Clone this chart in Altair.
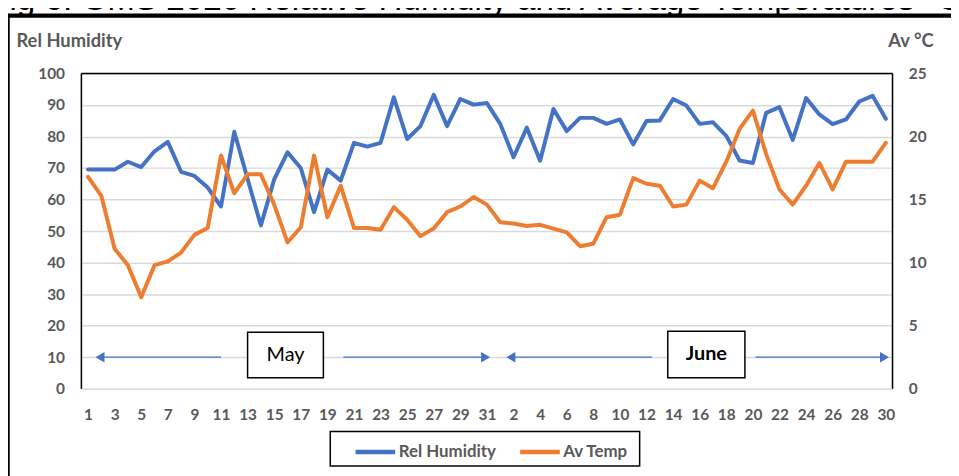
import json
import altair as alt
import pandas as pd

# ---------------- data ----------------
may_days = list(range(1, 32))
june_days = list(range(1, 31))
day_labels = may_days + june_days

series_names = ["Rel Humidity", "Av Temp"]
series_colors = ["#4472C4", "#ED7D31"]

humidity = [69.5, 69.5, 69.5, 72.0, 70.3, 75.3, 78.3, 68.8, 67.5, 63.8,
            57.8, 81.5, 66.5, 51.8, 66.4, 75.0, 70.0, 56.0, 69.5, 66.0,
            78.0, 76.8, 78.0, 92.4, 79.2, 83.3, 93.2, 83.3, 91.9, 90.1,
            90.6,
            84.0, 73.4, 82.8, 72.3, 88.75, 81.7, 85.9, 85.9, 84.0, 85.4,
            77.5, 84.9, 85.1, 91.9, 89.8, 84.0, 84.5, 80.2, 72.4, 71.6,
            87.5, 89.3, 78.9, 92.2, 87.0, 83.9, 85.4, 91.1, 92.9, 85.6]

temperature = [16.8, 15.3, 11.1, 9.8, 7.25, 9.8, 10.1, 10.8, 12.2, 12.75,
               18.5, 15.5, 17.0, 17.0, 14.6, 11.6, 12.8, 18.5, 13.6, 16.1,
               12.75, 12.75, 12.6, 14.4, 13.4, 12.1, 12.7, 14.0, 14.45, 15.2,
               14.6,
               13.2, 13.1, 12.9, 13.0, 12.7, 12.4, 11.3, 11.5, 13.6, 13.8,
               16.7, 16.25, 16.1, 14.45, 14.6, 16.5, 15.9, 18.0, 20.6, 22.05,
               18.6, 15.8, 14.6, 16.1, 17.9, 15.8, 18.0, 18.0, 18.0, 19.5]

title_text = "Fig 6. GMS 2020 Relative Humidity and Average Temperatures °C"
left_title = "Rel Humidity"
right_title = "Av °C"

# month annotations (x in day-index units, y in humidity units)
months = ["May", "June"]
month_weight = ["normal", "bold"]
month_box_x = [12.0, 43.6]
month_box_x2 = [17.7, 49.4]
month_box_y = [3.5, 3.5]
month_box_y2 = [17.9, 18.2]
arrow_start = [0.8, 19.2, 31.7, 50.2]
arrow_end = [10.0, 29.8, 42.4, 59.7]
arrow_head_x = [0.9, 29.9, 31.8, 59.9]
arrow_head_shape = ["triangle-left", "triangle-right", "triangle-left", "triangle-right"]
arrow_level = 10

# ---------------- tables ----------------
n = len(day_labels)
df_h = pd.DataFrame({"idx": list(range(n)), "value": humidity, "series": series_names[0]})
df_t = pd.DataFrame({"idx": list(range(n)), "value": temperature, "series": series_names[1]})
df_box = pd.DataFrame({"x": month_box_x, "x2": month_box_x2, "y": month_box_y, "y2": month_box_y2,
                       "label": months, "weight": month_weight})
df_box["cx"] = (df_box["x"] + df_box["x2"]) / 2
df_box["cy"] = (df_box["y"] + df_box["y2"]) / 2
df_arrow = pd.DataFrame({"x": arrow_start, "x2": arrow_end, "y": arrow_level})
df_head = pd.DataFrame({"x": arrow_head_x, "shape": arrow_head_shape, "y": arrow_level})
one = pd.DataFrame({"a": [0]})

W, H = 818, 318
FONT = "Lato"
GREY = "#595959"
BLUE = series_colors[0]
TICK_FS = 15.5
TITLE_FS = 18.5
LEG_FS = 17

xscale = alt.Scale(domain=[-0.5, n - 0.5], nice=False, zero=False)
hscale = alt.Scale(domain=[0, 100], nice=False, zero=True)
tscale = alt.Scale(domain=[0, 25], nice=False, zero=True)

x_axis = alt.Axis(values=list(range(0, n, 2)),
                  labelExpr=f"{json.dumps(day_labels)}[datum.value]",
                  grid=False, domain=False, ticks=False, labelPadding=19,
                  labelFont=FONT, labelFontSize=TICK_FS, labelFontWeight="bold",
                  labelColor=GREY, labelFlush=False, labelOverlap=False, title=None)

h_axis = alt.Axis(values=list(range(0, 101, 10)), grid=True, gridColor="#D9D9D9",
                  gridWidth=1.5, domain=False, ticks=False, labelPadding=17,
                  labelFont=FONT, labelFontSize=TICK_FS, labelFontWeight="bold",
                  labelColor=GREY, title=left_title, titleAngle=0,
                  titleAlign="left", titleBaseline="middle", titleX=-66,
                  titleY=-33, titleFont=FONT, titleFontSize=TITLE_FS,
                  titleFontWeight="bold", titleColor=GREY)

t_axis = alt.Axis(orient="right", values=list(range(0, 26, 5)), grid=False,
                  domain=False, ticks=False, labelPadding=16,
                  labelFont=FONT, labelFontSize=TICK_FS, labelFontWeight="bold",
                  labelColor=GREY, title=right_title, titleAngle=0,
                  titleAlign="right", titleBaseline="middle", titleX=41,
                  titleY=-33, titleFont=FONT, titleFontSize=TITLE_FS,
                  titleFontWeight="bold", titleColor=GREY)

color = alt.Color("series:N",
                  scale=alt.Scale(domain=series_names, range=series_colors),
                  legend=alt.Legend(orient="none", legendX=274, legendY=359,
                                    direction="horizontal", title=None,
                                    symbolType="stroke", symbolSize=1600,
                                    symbolStrokeWidth=4.5, labelFont=FONT,
                                    labelFontSize=LEG_FS, labelFontWeight="bold",
                                    labelColor=GREY, columnPadding=14,
                                    labelOffset=1, padding=0))

hum_line = alt.Chart(df_h).mark_line(strokeWidth=4, strokeJoin="round", strokeCap="round").encode(
    x=alt.X("idx:Q", scale=xscale, axis=x_axis),
    y=alt.Y("value:Q", scale=hscale, axis=h_axis),
    color=color,
)

temp_line = alt.Chart(df_t).mark_line(strokeWidth=4, strokeJoin="round", strokeCap="round").encode(
    x=alt.X("idx:Q", scale=xscale, axis=x_axis),
    y=alt.Y("value:Q", scale=tscale, axis=t_axis),
    color=color,
)

arrows = alt.Chart(df_arrow).mark_rule(color=BLUE, strokeWidth=1.3).encode(
    x=alt.X("x:Q", scale=xscale, axis=x_axis), x2="x2:Q",
    y=alt.Y("y:Q", scale=hscale, axis=h_axis),
)
heads = alt.Chart(df_head).mark_point(filled=True, color=BLUE, size=110, opacity=1).encode(
    x=alt.X("x:Q", scale=xscale, axis=x_axis),
    y=alt.Y("y:Q", scale=hscale, axis=h_axis),
    shape=alt.Shape("shape:N", scale=None, legend=None),
)
boxes = alt.Chart(df_box).mark_rect(fill="white", stroke="black", strokeWidth=1.5).encode(
    x=alt.X("x:Q", scale=xscale, axis=x_axis), x2="x2:Q",
    y=alt.Y("y:Q", scale=hscale, axis=h_axis), y2="y2:Q",
)


def month_text(weight):
    return alt.Chart(df_box).transform_filter(
        alt.datum.weight == weight
    ).mark_text(font=FONT, fontSize=20, color="black", baseline="middle",
                fontWeight=weight).encode(
        x=alt.X("cx:Q", scale=xscale, axis=x_axis),
        y=alt.Y("cy:Q", scale=hscale, axis=h_axis),
        text="label:N",
    )


text_normal = month_text("normal")
text_bold = month_text("bold")

# plot border (left, top, right) in black
border = alt.Chart(one).mark_rule(color="black", strokeWidth=1.5)
border_l = border.encode(x=alt.value(0), y=alt.value(0), y2=alt.value(H))
border_r = border.encode(x=alt.value(W), y=alt.value(0), y2=alt.value(H))
border_top = border.encode(x=alt.value(0), x2=alt.value(W), y=alt.value(0))

# outer frame, cropped title and legend box
frame = alt.Chart(one).mark_rect(fill="white", fillOpacity=0, stroke="black", strokeWidth=4.5).encode(
    x=alt.value(-74.5), x2=alt.value(1100), y=alt.value(-58.3), y2=alt.value(700))
title = alt.Chart(one).mark_text(font="Liberation Sans", fontSize=33.5, color="black",
                                 align="left", baseline="alphabetic").encode(
    x=alt.value(-93), y=alt.value(-63.5), text=alt.value(title_text))
legend_box = alt.Chart(one).mark_rect(fill="white", stroke="black", strokeWidth=1.5).encode(
    x=alt.value(251), x2=alt.value(563), y=alt.value(361), y2=alt.value(396))

left = alt.layer(frame, title, legend_box, hum_line, arrows, heads, boxes, text_normal, text_bold,
                 border_l, border_r, border_top)
chart = alt.layer(left, temp_line).resolve_scale(y="independent").properties(
    width=W, height=H,
    autosize=alt.AutoSizeParams(type="none"),
    padding={"left": 74, "top": 64, "right": 59, "bottom": 86},
).configure_view(stroke=None).configure(background="white")

chart.save("out.html", embed_options={"renderer": "svg", "actions": False})
